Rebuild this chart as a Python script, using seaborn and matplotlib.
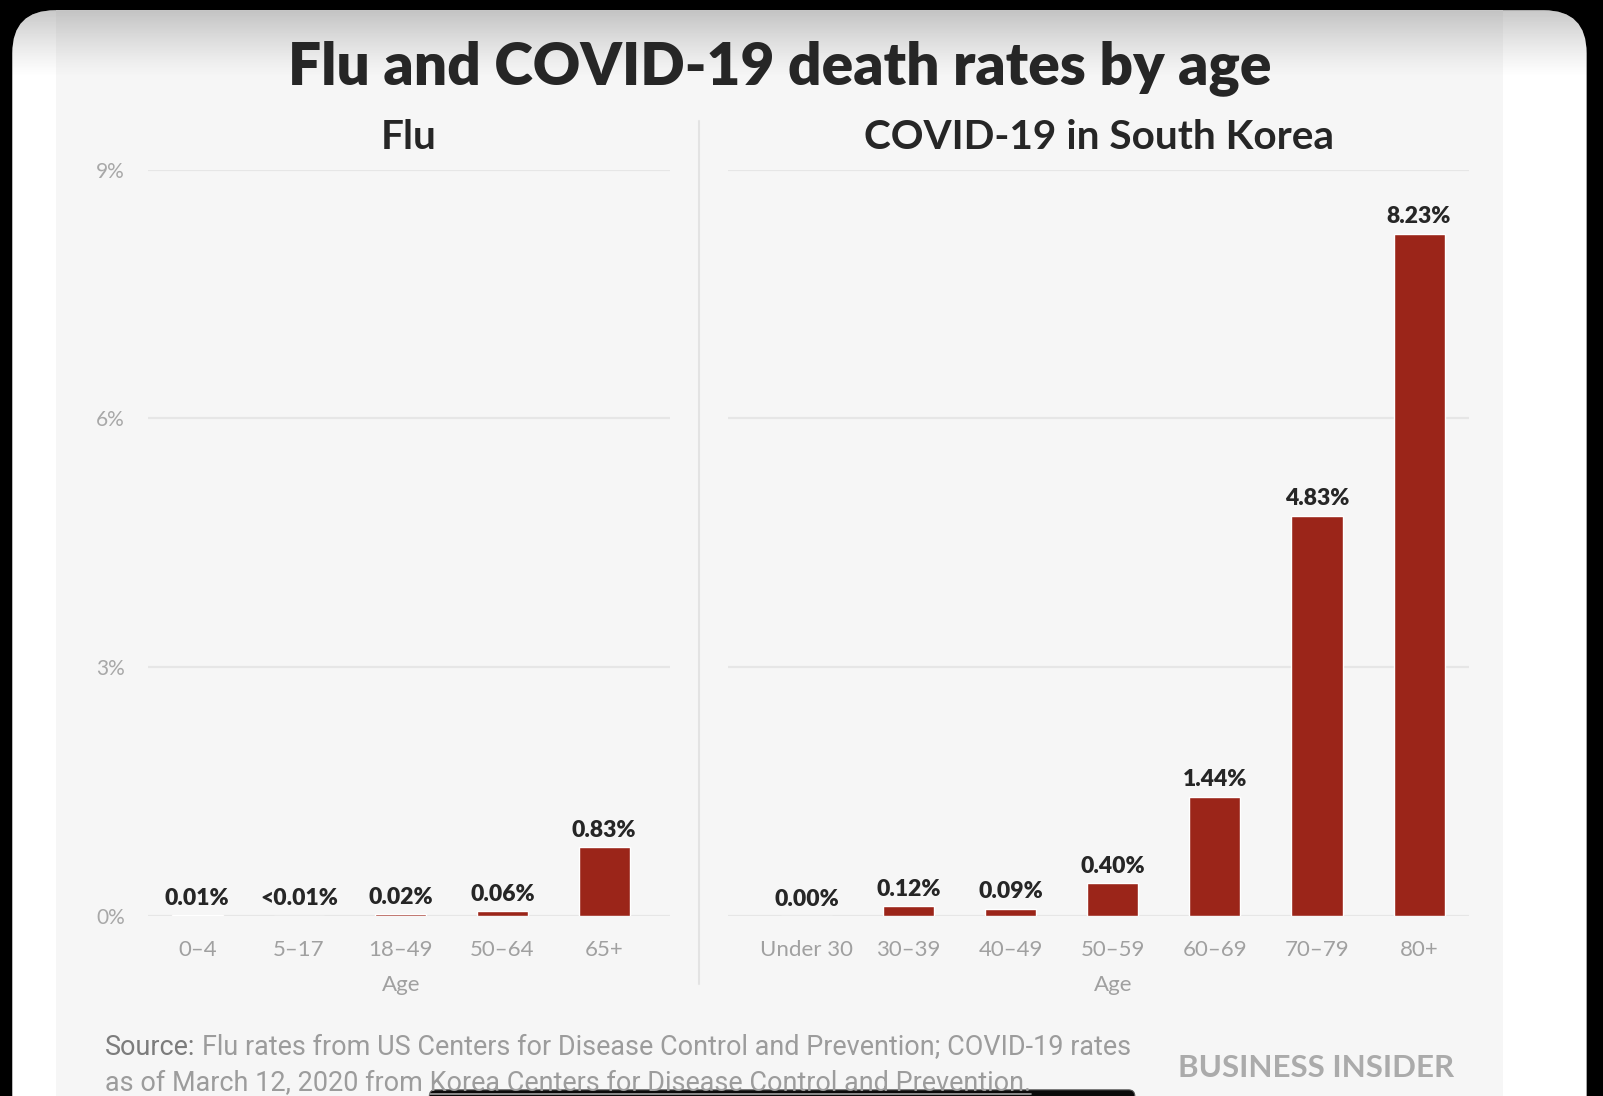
import numpy as np
import pandas as pd
import matplotlib
matplotlib.use("Agg")
import matplotlib.pyplot as plt
import seaborn as sns
from matplotlib.patches import FancyBboxPatch, Rectangle
from matplotlib.lines import Line2D

# ---------------- data ----------------
flu_ages = ["0–4", "5–17", "18–49", "50–64", "65+"]
flu_rates = [0.01, 0.004, 0.02, 0.06, 0.83]
flu_labels = ["0.01%", "<0.01%", "0.02%", "0.06%", "0.83%"]

covid_ages = ["Under 30", "30–39", "40–49", "50–59", "60–69", "70–79", "80+"]
covid_rates = [0.00, 0.12, 0.09, 0.40, 1.44, 4.83, 8.23]
covid_labels = ["0.00%", "0.12%", "0.09%", "0.40%", "1.44%", "4.83%", "8.23%"]

y_ticks = [0, 3, 6, 9]
y_tick_labels = ["0%", "3%", "6%", "9%"]

title = "Flu and COVID-19 death rates by age"
sub_left = "Flu"
sub_right = "COVID-19 in South Korea"
src_line1_a = "Source:"
src_line1_b = "Flu rates from US Centers for Disease Control and Prevention; COVID-19 rates"
src_line2_a = "as of March 12, 2020 from "
src_line2_b = "Korea Centers for Disease Control and Prevention."
brand = "BUSINESS INSIDER"

# ---------------- style ----------------
sns.set_style("white")
plt.rcParams['font.family'] = ['Lato', 'DejaVu Sans']
SRC_FONT = ['Liberation Sans Narrow', 'Roboto', 'DejaVu Sans']

RED = "#9b2519"
DARK = "#262626"
GRID = "#e6e6e6"

W, H = 1568, 1072          # reference layout units
SCALE = 1603 / W
def fx(x): return x / W
def fy(y): return 1 - y / H

fig = plt.figure(figsize=(16.03, 10.96), dpi=100, facecolor="black")
renderer = fig.canvas.get_renderer()

# ---------------- background (phone screenshot frame) ----------------
bg = fig.add_axes([0, 0, 1, 1], zorder=0)
bg.axis("off")
card = FancyBboxPatch((12, 10), 1540, 1120, boxstyle="round,pad=0,rounding_size=42",
                      fc="white", ec="none")
bg.add_patch(card)
panel = Rectangle((55, 10), 1415, 1120, fc="#f6f6f6", ec="none")
bg.add_patch(panel)
panel.set_clip_path(card)
grad = np.zeros((64, 1, 4))
grad[..., :3] = 0.45
grad[:, 0, 3] = np.linspace(0.45, 0.0, 64) ** 1.2
im = bg.imshow(grad, extent=(12, 1552, 75, 10), origin="upper", aspect="auto",
               interpolation="bilinear", zorder=3)
im.set_clip_path(card)
bg.plot([684, 684], [118, 962], color="#e3e3e3", lw=1.5, zorder=4)
bar_home = FancyBboxPatch((420, 1066), 690, 30, boxstyle="round,pad=0,rounding_size=6",
                          fc="#0a0a0a", ec="#555555", lw=0.8, zorder=5)
bg.add_patch(bar_home)
bg.set_xlim(0, W)
bg.set_ylim(H, 0)

# ---------------- chart axes ----------------
axL = fig.add_axes([fx(145), fy(896), fx(655) - fx(145), fy(166) - fy(896)], zorder=2)
axR = fig.add_axes([fx(712), fy(896), fx(1437) - fx(712), fy(166) - fy(896)], zorder=2)

sns.barplot(x=flu_ages, y=flu_rates, color=RED, saturation=1, width=0.5, ax=axL)
sns.barplot(x=covid_ages, y=covid_rates, color=RED, saturation=1, width=0.5, ax=axR)

axL.set_xlim(-0.482, 4.643)
axR.set_xlim(-0.771, 6.49)

for ax, labels in ((axL, flu_labels), (axR, covid_labels)):
    ax.set_facecolor("none")
    ax.set_ylim(0, 9)
    ax.set_yticks(y_ticks)
    ax.yaxis.grid(True, color=GRID, lw=1.6)
    ax.xaxis.grid(False)
    ax.set_axisbelow(True)
    for s in ax.spines.values():
        s.set_visible(False)
    ax.tick_params(axis="x", length=0, pad=17, labelsize=16, labelcolor="#a0a0a0")
    ax.tick_params(axis="y", length=0)
    ax.set_ylabel("")
    ax.bar_label(ax.containers[0], labels=labels, padding=4.5, fontsize=16.5,
                 fontweight="heavy", color=DARK)
    ax.set_xlabel("Age", fontsize=16, color="#a0a0a0")
    ax.xaxis.label.set_va("center")

axL.set_yticklabels(y_tick_labels)
axL.tick_params(axis="y", pad=17, labelsize=15, labelcolor="#a8a8a8")
axR.tick_params(axis="y", labelleft=False)
axL.xaxis.set_label_coords((392 - 145) / 510, -(963 - 896) / 730)
axR.xaxis.set_label_coords((1088.5 - 712) / 725, -(963 - 896) / 730)

# ---------------- titles ----------------
def text_w(s, fs, **kw):
    t = fig.text(0, 0, s, fontsize=fs, **kw)
    w = t.get_window_extent(renderer).width
    t.remove()
    return w

def fit_width(t, target_disp):
    w = t.get_window_extent(renderer).width
    t.set_fontsize(t.get_fontsize() * target_disp * SCALE / w)
    return t.get_fontsize()

t_title = fig.text(fx(763), fy(82), title, ha="center", va="baseline",
                   fontsize=40, fontweight="heavy", color=DARK)
fit_width(t_title, 960)

t_sl = fig.text(fx(400), fy(146), sub_left, ha="center", va="baseline",
                fontsize=26, fontweight="bold", color=DARK)
t_sr = fig.text(fx(1075), fy(146), sub_right, ha="center", va="baseline",
                fontsize=26, fontweight="bold", color=DARK)
fs_sub = fit_width(t_sr, 460)
t_sl.set_fontsize(fs_sub)

# ---------------- source & brand ----------------
fig_w = fig.bbox.width
x0 = fx(103)
full1 = src_line1_a + " " + src_line1_b
w1 = text_w(full1, 16, family=SRC_FONT)
fs_src = min(16 * 1005 * SCALE / w1, 19.5)
w1 = text_w(full1, fs_src, family=SRC_FONT)
w1b = text_w(src_line1_b, fs_src, family=SRC_FONT)
fig.text(x0, fy(1032), src_line1_a, ha="left", va="baseline", fontsize=fs_src,
         color="#7c7c7c", family=SRC_FONT)
fig.text(x0 + (w1 - w1b) / fig_w, fy(1032), src_line1_b, ha="left", va="baseline",
         fontsize=fs_src, color="#9c9c9c", family=SRC_FONT)

t2 = fig.text(x0, fy(1067), src_line2_a + src_line2_b, ha="left", va="baseline",
              fontsize=fs_src, color="#9c9c9c", family=SRC_FONT)
w_full = t2.get_window_extent(renderer).width
w_b = text_w(src_line2_b, fs_src, family=SRC_FONT)
ux0 = x0 + (w_full - w_b) / fig_w
ux1 = x0 + w_full / fig_w
fig.add_artist(Line2D([ux0, ux1], [fy(1070), fy(1070)], color="#a0a0a0", lw=1.2,
                      transform=fig.transFigure))

t_brand = fig.text(fx(1152), fy(1053), brand, ha="left", va="baseline", fontsize=18,
                   fontweight="bold", color="#ababab")
fit_width(t_brand, 270)

fig.savefig("out.png", dpi=100, facecolor=fig.get_facecolor())
